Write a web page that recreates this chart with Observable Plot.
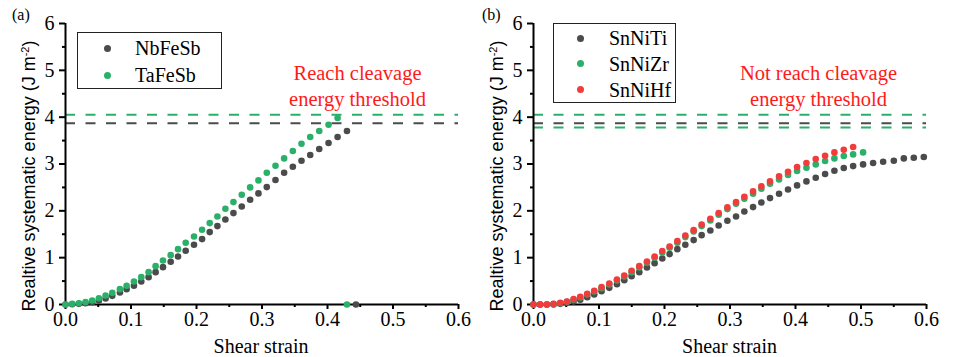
<!DOCTYPE html>
<html><head><meta charset="utf-8">
<script src="https://cdn.jsdelivr.net/npm/d3@7"></script>
<script src="https://cdn.jsdelivr.net/npm/@observablehq/plot@0.6"></script>
<style>
body{margin:0;background:#fff;}
#wrap{position:relative;width:955px;height:357px;overflow:hidden;font-family:"Liberation Serif","Times New Roman",serif;color:#000;}
.panel{position:absolute;top:0;}
.legend{position:absolute;border:1.3px solid #222;background:#fff;box-sizing:border-box;}
.legend .item{position:absolute;font-size:20px;line-height:20px;white-space:nowrap;}
.legend .dot{position:absolute;width:7px;height:7px;border-radius:50%;}
.tag{position:absolute;font-size:16px;line-height:16px;}
.ytitle{position:absolute;font-family:"Liberation Sans",Arial,sans-serif;font-size:18px;line-height:18px;white-space:nowrap;transform:translate(-50%,-50%) rotate(-90deg);}
.xtitle{position:absolute;font-size:20px;line-height:20px;white-space:nowrap;transform:translate(-50%,-50%);}
.note{position:absolute;font-size:20.5px;line-height:26px;white-space:nowrap;text-align:center;transform:translate(-50%,-50%);}
</style></head><body><div id="wrap"></div>
<script>
// ---------- data ----------
const xTicks = [0, 0.1, 0.2, 0.3, 0.4, 0.5, 0.6];
const xTickLabels = ["0.0", "0.1", "0.2", "0.3", "0.4", "0.5", "0.6"];
const xMinorTicks = [0.05, 0.15, 0.25, 0.35, 0.45, 0.55];
const yTicks = [0, 1, 2, 3, 4, 5, 6];
const yTickLabels = ["0", "1", "2", "3", "4", "5", "6"];
const yMinorTicks = [0.5, 1.5, 2.5, 3.5, 4.5, 5.5];
const xTitle = "Shear strain";
const yTitleMain = "Realtive systematic energy (J m";
const yTitleSup = "-2";
const yTitleEnd = ")";

const panelTags = ["(a)", "(b)"];

// panel (a)
const seriesA = ["NbFeSb", "TaFeSb"];
const nbFeSbStrain = [0, 0.0102, 0.0204, 0.0306, 0.0408, 0.0510, 0.0612, 0.0714, 0.0831, 0.0933, 0.1045, 0.1157, 0.1269, 0.1376, 0.1488, 0.1606, 0.1718, 0.1835, 0.1962, 0.2085, 0.2202, 0.2319, 0.2441, 0.2564, 0.2691, 0.2819, 0.2946, 0.3073, 0.3206, 0.3338, 0.3471, 0.3603, 0.3736, 0.3874, 0.4016, 0.4154, 0.4297, 0.4434];
const nbFeSbEnergy = [0, 0.005, 0.014, 0.028, 0.050, 0.085, 0.128, 0.185, 0.256, 0.328, 0.399, 0.491, 0.584, 0.691, 0.798, 0.912, 1.026, 1.147, 1.275, 1.396, 1.546, 1.674, 1.816, 1.952, 2.094, 2.236, 2.372, 2.507, 2.657, 2.813, 2.942, 3.070, 3.191, 3.319, 3.447, 3.575, 3.704, 0];
const taFeSbStrain = [0, 0.0102, 0.0204, 0.0306, 0.0408, 0.0510, 0.0612, 0.0714, 0.0831, 0.0933, 0.1045, 0.1157, 0.1269, 0.1376, 0.1488, 0.1606, 0.1718, 0.1835, 0.1962, 0.2085, 0.2202, 0.2319, 0.2441, 0.2564, 0.2691, 0.2819, 0.2946, 0.3073, 0.3206, 0.3338, 0.3471, 0.3603, 0.3736, 0.3874, 0.4016, 0.4154, 0.4297];
const taFeSbEnergy = [0, 0.014, 0.028, 0.050, 0.085, 0.135, 0.192, 0.249, 0.328, 0.399, 0.491, 0.584, 0.691, 0.819, 0.940, 1.054, 1.182, 1.318, 1.453, 1.596, 1.738, 1.880, 2.044, 2.187, 2.343, 2.500, 2.650, 2.814, 2.963, 3.120, 3.276, 3.433, 3.575, 3.704, 3.839, 3.981, 0];
const thresholdsA = [4.05, 3.87];
const thresholdSeriesA = ["TaFeSb", "NbFeSb"];
const noteA = ["Reach cleavage", "energy threshold"];

// panel (b)
const seriesB = ["SnNiTi", "SnNiZr", "SnNiHf"];
const strainB = [0, 0.0102, 0.0204, 0.0306, 0.0408, 0.0510, 0.0612, 0.0714, 0.0820, 0.0927, 0.1039, 0.1157, 0.1274, 0.1386, 0.1498, 0.1615, 0.1732, 0.1849, 0.1966, 0.2078, 0.2196, 0.2318, 0.2445, 0.2567, 0.2700, 0.2827, 0.2960, 0.3092, 0.3219, 0.3352, 0.3479, 0.3611, 0.3749, 0.3886, 0.4024, 0.4167, 0.4309, 0.4452, 0.4594, 0.4737, 0.4880, 0.5032, 0.5185, 0.5338, 0.5501, 0.5654, 0.5806, 0.5959];
const snNiTiEnergy = [0, 0, 0, 0, 0.014, 0.036, 0.064, 0.100, 0.157, 0.214, 0.285, 0.356, 0.434, 0.520, 0.605, 0.691, 0.791, 0.883, 0.983, 1.076, 1.182, 1.275, 1.375, 1.481, 1.581, 1.688, 1.788, 1.880, 1.987, 2.080, 2.179, 2.272, 2.365, 2.457, 2.543, 2.628, 2.707, 2.785, 2.856, 2.913, 2.955, 2.991, 3.020, 3.048, 3.070, 3.120, 3.134, 3.148];
const snNiZrEnergy = [0, 0, 0, 0.007, 0.028, 0.057, 0.100, 0.150, 0.214, 0.278, 0.349, 0.427, 0.513, 0.598, 0.691, 0.791, 0.891, 0.997, 1.104, 1.211, 1.318, 1.439, 1.560, 1.674, 1.795, 1.916, 2.037, 2.151, 2.258, 2.365, 2.472, 2.578, 2.671, 2.764, 2.849, 2.920, 2.991, 3.063, 3.120, 3.170, 3.205, 3.248];
const snNiHfEnergy = [0, 0, 0, 0.014, 0.036, 0.064, 0.114, 0.164, 0.228, 0.292, 0.370, 0.449, 0.534, 0.620, 0.720, 0.819, 0.919, 1.026, 1.140, 1.239, 1.353, 1.474, 1.588, 1.709, 1.831, 1.952, 2.073, 2.187, 2.301, 2.415, 2.522, 2.628, 2.736, 2.835, 2.934, 3.020, 3.105, 3.177, 3.248, 3.305, 3.362];
const thresholdsB = [4.05, 3.87, 3.78];
const thresholdSeriesB = ["SnNiZr", "SnNiTi", "SnNiZr"];
const noteB = ["Not reach cleavage", "energy threshold"];

// colours
const seriesColors = {NbFeSb: "#4b4b4b", TaFeSb: "#2bb06a", SnNiTi: "#4b4b4b", SnNiZr: "#2bb06a", SnNiHf: "#f23c3c"};
const noteColor = "#ff1a1a";
const serif = "Liberation Serif";

// ---------- build ----------
const xLabelOf = new Map(xTicks.map((t, i) => [t, xTickLabels[i]]));
const yLabelOf = new Map(yTicks.map((t, i) => [t, yTickLabels[i]]));

function rows(name, xs, ys) { return ys.map((y, i) => ({name, x: xs[i], y})); }

function makePanel({width, marginRight, points, names, thresholds, thresholdNames}) {
  const th = thresholds.map((v, i) => ({y: v, name: thresholdNames[i]}));
  return Plot.plot({
    width, height: 357,
    marginLeft: 65, marginRight, marginTop: 23, marginBottom: 53,
    x: {domain: [0, 0.6]},
    y: {domain: [0, 6]},
    color: {domain: names, range: names.map(n => seriesColors[n])},
    style: {fontFamily: serif, fontSize: "20px", color: "#000", background: "transparent", overflow: "visible"},
    marks: [
      Plot.ruleY(th, {y: "y", stroke: d => seriesColors[d.name], strokeWidth: 2, strokeDasharray: "10,10.5"}),
      Plot.axisX(xMinorTicks, {tickSize: 3, strokeWidth: 2, tickFormat: () => "", label: null}),
      Plot.axisX(xTicks, {tickSize: 5, tickPadding: 2, strokeWidth: 2, tickFormat: d => xLabelOf.get(d), label: null, fontSize: 20, fontFamily: serif}),
      Plot.axisY(yMinorTicks, {tickSize: 3, strokeWidth: 2, tickFormat: () => "", label: null}),
      Plot.axisY(yTicks, {tickSize: 6, tickPadding: 5, strokeWidth: 2, tickFormat: d => yLabelOf.get(d), label: null, fontSize: 20, fontFamily: serif}),
      Plot.ruleX([0], {strokeWidth: 2}),
      Plot.ruleY([0], {strokeWidth: 2}),
      Plot.dot(points, {x: "x", y: "y", fill: "name", r: 3.3})
    ]
  });
}

const wrap = document.getElementById("wrap");

const pa = makePanel({
  width: 468, marginRight: 10,
  points: [...rows("NbFeSb", nbFeSbStrain, nbFeSbEnergy), ...rows("TaFeSb", taFeSbStrain, taFeSbEnergy)],
  names: seriesA, thresholds: thresholdsA, thresholdNames: thresholdSeriesA
});
const pb = makePanel({
  width: 487, marginRight: 29,
  points: [...rows("SnNiTi", strainB, snNiTiEnergy), ...rows("SnNiZr", strainB, snNiZrEnergy), ...rows("SnNiHf", strainB, snNiHfEnergy)],
  names: seriesB, thresholds: thresholdsB, thresholdNames: thresholdSeriesB
});

function place(el, left) { const d = document.createElement("div"); d.className = "panel"; d.style.left = left + "px"; d.appendChild(el); wrap.appendChild(d); }
place(pa, 0);
place(pb, 468);

function legend(names, box, rowY, dotX, textX) {
  const lg = document.createElement("div");
  lg.className = "legend";
  Object.assign(lg.style, {left: box[0] + "px", top: box[1] + "px", width: box[2] + "px", height: box[3] + "px"});
  names.forEach((n, i) => {
    const dot = document.createElement("div");
    dot.className = "dot";
    Object.assign(dot.style, {left: (dotX - 3.5) + "px", top: (rowY[i] - 3.5) + "px", background: seriesColors[n]});
    const t = document.createElement("div");
    t.className = "item";
    t.textContent = n;
    Object.assign(t.style, {left: textX + "px", top: (rowY[i] - 10) + "px"});
    lg.appendChild(dot); lg.appendChild(t);
  });
  wrap.appendChild(lg);
}
legend(seriesA, [77, 32, 145, 57], [15, 42], 29, 57);
legend(seriesB, [553, 23, 123, 80], [14, 39.5, 65.5], 26, 55);

function tag(text, left, top) { const t = document.createElement("div"); t.className = "tag"; t.textContent = text; t.style.left = left + "px"; t.style.top = top + "px"; wrap.appendChild(t); }
tag(panelTags[0], 12, 7);
tag(panelTags[1], 482, 7);

function yTitleAt(cx, cy) {
  const t = document.createElement("div");
  t.className = "ytitle";
  t.append(yTitleMain);
  const s = document.createElement("sup");
  s.textContent = yTitleSup;
  s.style.fontSize = "11px";
  s.style.verticalAlign = "6px";
  t.append(s, yTitleEnd);
  t.style.left = cx + "px"; t.style.top = cy + "px";
  wrap.appendChild(t);
}
yTitleAt(27, 176);
yTitleAt(495, 176);

function xTitleAt(cx, cy) {
  const t = document.createElement("div");
  t.className = "xtitle"; t.textContent = xTitle;
  t.style.left = cx + "px"; t.style.top = cy + "px";
  wrap.appendChild(t);
}
xTitleAt(261, 346);
xTitleAt(729.5, 346);

function noteAt(lines, cx, cy) {
  const t = document.createElement("div");
  t.className = "note";
  t.style.color = noteColor;
  lines.forEach((l, i) => { if (i) t.appendChild(document.createElement("br")); t.append(l); });
  t.style.left = cx + "px"; t.style.top = cy + "px";
  wrap.appendChild(t);
}
noteAt(noteA, 357.5, 86);
noteAt(noteB, 818.5, 86);
</script>
</body></html>
